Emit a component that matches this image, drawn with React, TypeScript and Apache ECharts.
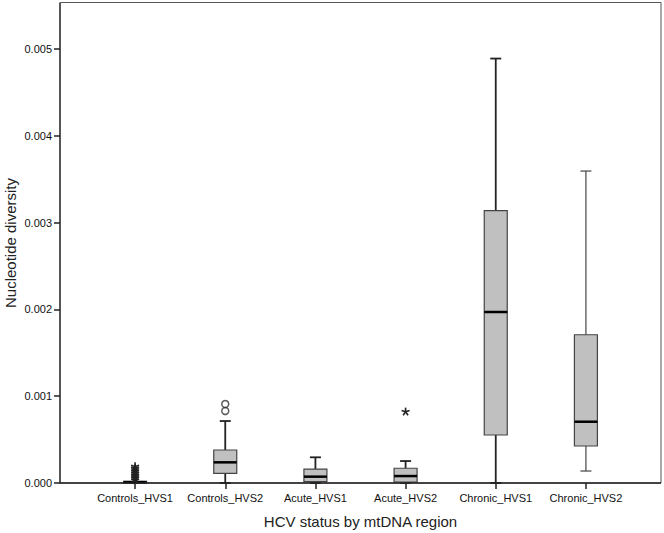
import React, { useEffect, useRef } from "react";
import * as echarts from "echarts";

const categories = ["Controls_HVS1", "Controls_HVS2", "Acute_HVS1", "Acute_HVS2", "Chronic_HVS1", "Chronic_HVS2"];
const whiskerLow = [0, 0, 0, 0, 0, 0.000138];
const quartile1 = [0, 0.000112, 0.000015, 0.00001, 0.000553, 0.000426];
const medians = [0.00001, 0.000238, 0.000073, 0.00008, 0.00197, 0.000706];
const quartile3 = [0.00002, 0.00038, 0.000161, 0.00017, 0.003137, 0.001708];
const whiskerHigh = [0.00002, 0.000714, 0.000296, 0.000253, 0.00489, 0.003594];
const circleOutliers: [number, number][] = [
  [1, 0.00083],
  [1, 0.00091],
];
const starOutliers: [number, number][] = [
  [0, 0.00003],
  [0, 0.00005],
  [0, 0.00007],
  [0, 0.00009],
  [0, 0.00011],
  [0, 0.00013],
  [0, 0.00015],
  [0, 0.00017],
  [0, 0.00019],
  [3, 0.00082],
];
const yTicks = [0, 0.001, 0.002, 0.003, 0.004, 0.005];

const FONT = "'Liberation Sans', Arial, sans-serif";

export default function App() {
  const ref = useRef<HTMLDivElement>(null);
  useEffect(() => {
    if (!ref.current) return;
    const chart = echarts.init(ref.current, undefined, { renderer: "svg" });
    const boxData = categories.map((_, i) => [i, whiskerLow[i], quartile1[i], medians[i], quartile3[i], whiskerHigh[i]]);
    const BOX_W = 23;
    const CAP_W = 11;
    chart.setOption({
      animation: false,
      backgroundColor: "#fff",
      grid: { left: 90, width: 541, top: 3, bottom: 50, outerBoundsMode: "none", containLabel: false },
      graphic: [
        {
          type: "rect",
          shape: { x: 60.5, y: 2.5, width: 600.5, height: 480.5 },
          style: { fill: "none", stroke: "#555", lineWidth: 1 },
          silent: true,
          z: 1,
        },
        {
          type: "line",
          shape: { x1: 60, y1: 483, x2: 661, y2: 483 },
          style: { stroke: "#222", lineWidth: 1.5 },
          silent: true,
          z: 10,
        },
      ],
      xAxis: {
        type: "category",
        data: categories,
        name: "HCV status by mtDNA region",
        nameLocation: "middle",
        nameGap: 31,
        nameMoveOverlap: false,
        nameTextStyle: { fontFamily: FONT, fontSize: 15, color: "#222" },
        axisLine: { show: false },
        axisTick: { show: true, alignWithLabel: true, length: 6, lineStyle: { color: "#222", width: 1.5 } },
        axisLabel: { fontFamily: FONT, fontSize: 11, color: "#111", margin: 9, interval: 0 },
        splitLine: { show: false },
      },
      yAxis: {
        type: "value",
        min: 0,
        max: 0.00553,
        interval: 0.001,
        offset: 30,
        name: "Nucleotide diversity",
        nameLocation: "middle",
        nameGap: 42,
        nameMoveOverlap: false,
        nameTextStyle: { fontFamily: FONT, fontSize: 15, color: "#222" },
        axisLine: { show: true, lineStyle: { color: "#222", width: 1.5 } },
        axisTick: { show: true, length: 6, lineStyle: { color: "#222", width: 1.5 } },
        axisLabel: {
          fontFamily: FONT,
          fontSize: 11,
          color: "#111",
          margin: 8,
          showMaxLabel: false,
          formatter: (v: number) => (yTicks.some((t) => Math.abs(t - v) < 1e-9) ? v.toFixed(3) : ""),
        },
        splitLine: { show: false },
      },
      series: [
        {
          type: "custom",
          data: boxData,
          encode: { x: 0, y: [1, 2, 3, 4, 5] },
          z: 5,
          renderItem: (params: any, api: any) => {
            const idx = api.value(0);
            const pLow = api.coord([idx, api.value(1)]);
            const pQ1 = api.coord([idx, api.value(2)]);
            const pMed = api.coord([idx, api.value(3)]);
            const pQ3 = api.coord([idx, api.value(4)]);
            const pHigh = api.coord([idx, api.value(5)]);
            const cx = pMed[0];
            const thin = idx === 5;
            const ws = { stroke: thin ? "#444" : "#222", lineWidth: thin ? 1.2 : 1.8 };
            const children: any[] = [];
            if (pLow[1] - pQ1[1] > 0.5) {
              children.push({ type: "line", shape: { x1: cx, y1: pQ1[1], x2: cx, y2: pLow[1] }, style: ws });
              children.push({ type: "line", shape: { x1: cx - CAP_W / 2, y1: pLow[1], x2: cx + CAP_W / 2, y2: pLow[1] }, style: ws });
            }
            if (pQ3[1] - pHigh[1] > 0.5) {
              children.push({ type: "line", shape: { x1: cx, y1: pQ3[1], x2: cx, y2: pHigh[1] }, style: ws });
              children.push({ type: "line", shape: { x1: cx - CAP_W / 2, y1: pHigh[1], x2: cx + CAP_W / 2, y2: pHigh[1] }, style: ws });
            }
            children.push({
              type: "rect",
              shape: { x: cx - BOX_W / 2, y: pQ3[1], width: BOX_W, height: Math.max(pQ1[1] - pQ3[1], 1.5) },
              style: { fill: "#c0c0c0", stroke: "#444", lineWidth: 1.2 },
            });
            children.push({
              type: "line",
              shape: { x1: cx - BOX_W / 2, y1: pMed[1], x2: cx + BOX_W / 2, y2: pMed[1] },
              style: { stroke: "#000", lineWidth: 2.5 },
            });
            return { type: "group", children };
          },
        },
        {
          type: "custom",
          data: starOutliers,
          encode: { x: 0, y: 1 },
          z: 6,
          renderItem: (params: any, api: any) => {
            const p = api.coord([api.value(0), api.value(1)]);
            const r = 4.2;
            const children: any[] = [];
            for (let k = 0; k < 5; k++) {
              const a = (-90 + k * 72) * (Math.PI / 180);
              children.push({
                type: "line",
                shape: { x1: p[0], y1: p[1], x2: p[0] + r * Math.cos(a), y2: p[1] + r * Math.sin(a) },
                style: { stroke: "#222", lineWidth: 1.6 },
              });
            }
            return { type: "group", children };
          },
        },
        {
          type: "scatter",
          data: circleOutliers,
          symbol: "circle",
          symbolSize: 7,
          z: 6,
          itemStyle: { color: "transparent", borderColor: "#333", borderWidth: 1.5 },
        },
      ],
    });
    return () => chart.dispose();
  }, []);
  return <div ref={ref} style={{ position: "absolute", left: 0, top: 0, width: 664, height: 533 }} />;
}
